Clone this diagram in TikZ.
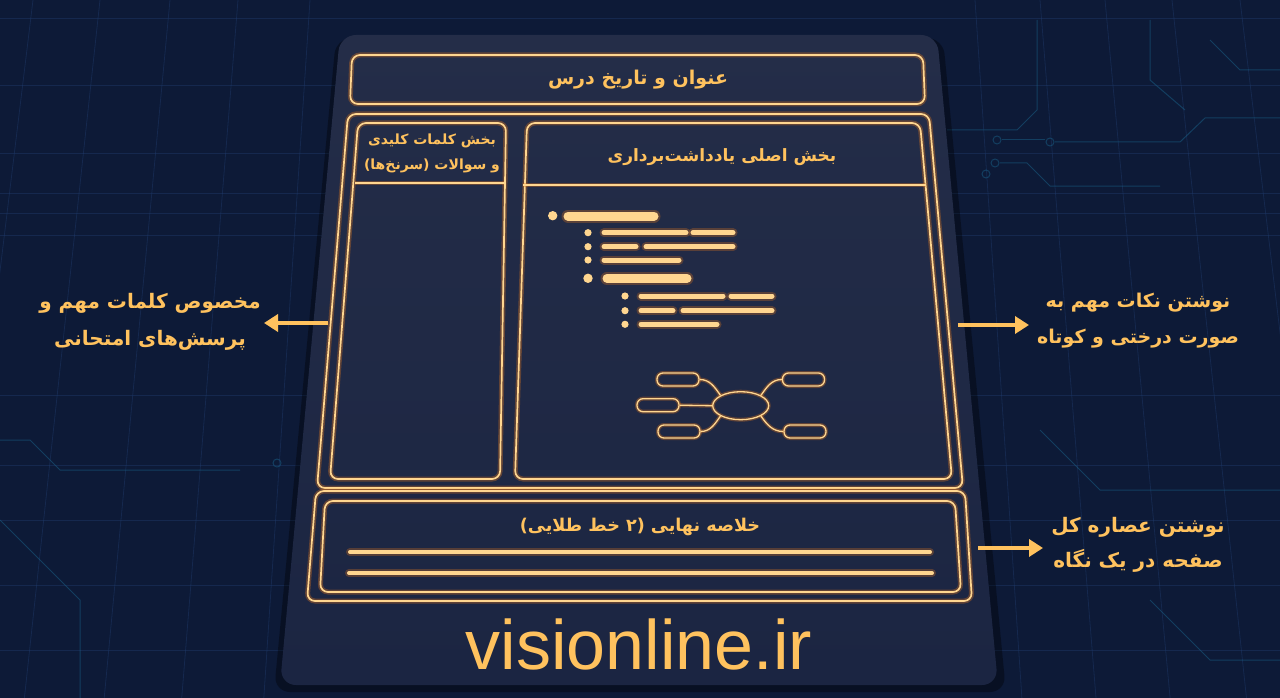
\documentclass[tikz,border=0pt]{standalone}
\usepackage{fontspec}
\usetikzlibrary{arrows.meta,shapes.geometric}
\TeXXeTstate=1
\setmainfont{Liberation Sans}
\newfontfamily\fa[Script=Arabic]{DejaVu Sans}
\definecolor{bg}{HTML}{0D1A37}
\definecolor{cardtop}{HTML}{242D48}
\definecolor{cardbot}{HTML}{1B2542}
\definecolor{gold}{HTML}{FFC25E}
\definecolor{core}{HTML}{FFD690}
\definecolor{glowc}{HTML}{E0761C}
\definecolor{gridc}{HTML}{1F3B6C}
\begin{document}
\begin{tikzpicture}[x=1pt,y=-1pt,
  neon/.style={draw=core, line width=1.7pt, rounded corners=8pt,
    preaction={draw=glowc, line width=5pt, draw opacity=0.35}},
  thin neon/.style={draw=core, line width=1.3pt,
    preaction={draw=glowc, line width=4pt, draw opacity=0.35}},
  bar/.style={draw=core, line cap=round, preaction={draw=glowc, line cap=round, line width=#1+4pt, draw opacity=0.3}, line width=#1},
  dot/.style={fill=core},
  txt/.style={text=gold, inner sep=0pt},
  fatxt/.style={txt, align=center, font=\fa\bfseries\fontsize{#1}{30}\selectfont},
  arr/.style={draw=gold, line width=3.5pt, -{Triangle[length=14pt,width=17pt]}},
  capsule/.style={thin neon, rounded corners=6pt, minimum width=42pt, minimum height=13pt, inner sep=0pt},
  hub/.style={thin neon, ellipse, minimum width=56pt, minimum height=28pt, inner sep=0pt},
  gridline/.style={draw=gridc, line width=0.8pt, draw opacity=0.45},
  trace/.style={draw=gridc!80!cyan, line width=1pt, draw opacity=0.5}
]
\useasboundingbox (0,0) rectangle (1280,698);
\fill[bg] (0,0) rectangle (1280,698);
% background grid
\foreach \xo in {33,100,170,238,310,975,1040,1105,1172,1240}
  \draw[gridline] (\xo,0) -- ({640+(\xo-640)*1.14},698);
\foreach \yy in {18,85,153,193,213,235,395,465,520,585,650}
  \draw[gridline] (0,\yy) -- (1280,\yy);
% circuit traces
\draw[trace] (947,130) -- (1017,130) -- (1037,110) -- (1037,20);
\draw[trace] (1002,140) -- (1045,140);
\draw[trace] (1055,142) -- (1180,142) -- (1205,118) -- (1280,118);
\draw[trace] (997,140) circle (4pt) (1050,142) circle (4pt);
\draw[trace] (1000,163) -- (1027,163) -- (1050,186) -- (1160,186);
\draw[trace] (995,163) circle (4pt) (986,174) circle (4pt);
\draw[trace] (1150,20) -- (1150,80) -- (1185,110);
\draw[trace] (1210,40) -- (1240,70) -- (1280,70);
\draw[trace] (0,440) -- (30,440) -- (60,470) -- (240,470);
\draw[trace] (277,463) circle (4pt);
\draw[trace] (0,520) -- (80,600) -- (80,698);
\draw[trace] (1040,430) -- (1100,490) -- (1280,490);
\draw[trace] (1150,600) -- (1210,660) -- (1280,660);
% card
\fill[black, opacity=0.35, rounded corners=16pt] (336,38) -- (943,38) -- (1006,692) -- (274,692) -- cycle;
\shade[top color=cardtop, bottom color=cardbot, rounded corners=16pt]
  (340,35) -- (937,35) -- (998,685) -- (280,685) -- cycle;
% title box
\draw[neon] (352,55) -- (923,55) -- (925,104) -- (350,104) -- cycle;
\node[fatxt=19] (title) at (638,80) {\beginR عنوان و تاریخ درس\endR};
% upper frame
\draw[neon] (348,114) -- (929,114) -- (963,488) -- (317,488) -- cycle;
% left column
\draw[neon] (358,123) -- (506,123) -- (500,479) -- (330,479) -- cycle;
\draw[thin neon] (355,183) -- (504,183);
\node[txt, align=center, font=\fa\bfseries\fontsize{14}{25}\selectfont] (cues) at (432,153) {\beginR بخش کلمات کلیدی\endR\\\beginR و سوالات (سرنخ‌ها)\endR};
% main box
\draw[neon] (527,123) -- (920,123) -- (952,479) -- (515,479) -- cycle;
\draw[thin neon] (523,185) -- (926,185);
\node[fatxt=17] (mainhead) at (722,157) {\beginR بخش اصلی یادداشت‌برداری\endR};
% bullet tree
\fill[dot] (552.7,215.7) circle (4.7pt);
\draw[bar=9pt] (568,216) -- (654,216);
\foreach \yy in {232.7,246.7,260} \fill[dot] (588,\yy) circle (3.6pt);
\draw[bar=5pt] (604,232.7) -- (686,232.7);
\draw[bar=5pt] (693,232.7) -- (733,232.7);
\draw[bar=5pt] (604,246.7) -- (636,246.7);
\draw[bar=5pt] (646,246.7) -- (733,246.7);
\draw[bar=5pt] (604,260) -- (679,260);
\fill[dot] (588,278.3) circle (4.7pt);
\draw[bar=9pt] (607,278.3) -- (687,278.3);
\foreach \yy in {296,310.7,324.3} \fill[dot] (625,\yy) circle (3.6pt);
\draw[bar=5pt] (641,296) -- (723,296);
\draw[bar=5pt] (731,296) -- (772,296);
\draw[bar=5pt] (641,310.7) -- (673,310.7);
\draw[bar=5pt] (683,310.7) -- (772,310.7);
\draw[bar=5pt] (641,324.3) -- (717,324.3);
% mind map
\node[hub] (c) at (740.7,405.7) {};
\node[capsule] (lt) at (678,379.5) {};
\node[capsule] (lm) at (658,405.2) {};
\node[capsule] (lb) at (679,431.5) {};
\node[capsule] (rt) at (803.5,379.5) {};
\node[capsule] (rb) at (805,431.5) {};
\draw[thin neon] (lt.east) to[out=0,in=125] (c.north west);
\draw[thin neon] (lm.east) -- (c.west);
\draw[thin neon] (lb.east) to[out=0,in=235] (c.south west);
\draw[thin neon] (rt.west) to[out=180,in=55] (c.north east);
\draw[thin neon] (rb.west) to[out=180,in=-55] (c.south east);
% lower frame and summary
\draw[neon] (316,491) -- (965,491) -- (972,601) -- (307,601) -- cycle;
\draw[neon] (325,501) -- (955,501) -- (961,592) -- (320,592) -- cycle;
\node[fatxt=17.6] (sumhead) at (640,527) {\beginR خلاصه نهایی (۲ خط طلایی)\endR};
\draw[bar=4pt] (350,552) -- (930,552);
\draw[bar=4pt] (349,573) -- (932,573);
% site
\node[txt] (site) at (639,644) {\fontsize{70}{80}\selectfont visionline.ir};
% side notes
\node[txt, align=center, font=\fa\bfseries\fontsize{20}{37}\selectfont] (ltext) at (150,322) {\beginR مخصوص کلمات مهم و\endR\\\beginR پرسش‌های امتحانی\endR};
\node[txt, align=center, font=\fa\bfseries\fontsize{19}{36}\selectfont] (rtext) at (1138,321) {\beginR نوشتن نکات مهم به\endR\\\beginR صورت درختی و کوتاه\endR};
\node[txt, align=center, font=\fa\bfseries\fontsize{20}{35}\selectfont] (btext) at (1138,545) {\beginR نوشتن عصاره کل\endR\\\beginR صفحه در یک نگاه\endR};
\coordinate (la) at (328,323);
\coordinate (lb2) at (264,323);
\coordinate (ra) at (958,325);
\coordinate (rb2) at (1029,325);
\coordinate (ba) at (978,548);
\coordinate (bb) at (1043,548);
\draw[arr] (la) -- (lb2);
\draw[arr] (ra) -- (rb2);
\draw[arr] (ba) -- (bb);
\end{tikzpicture}
\end{document}
